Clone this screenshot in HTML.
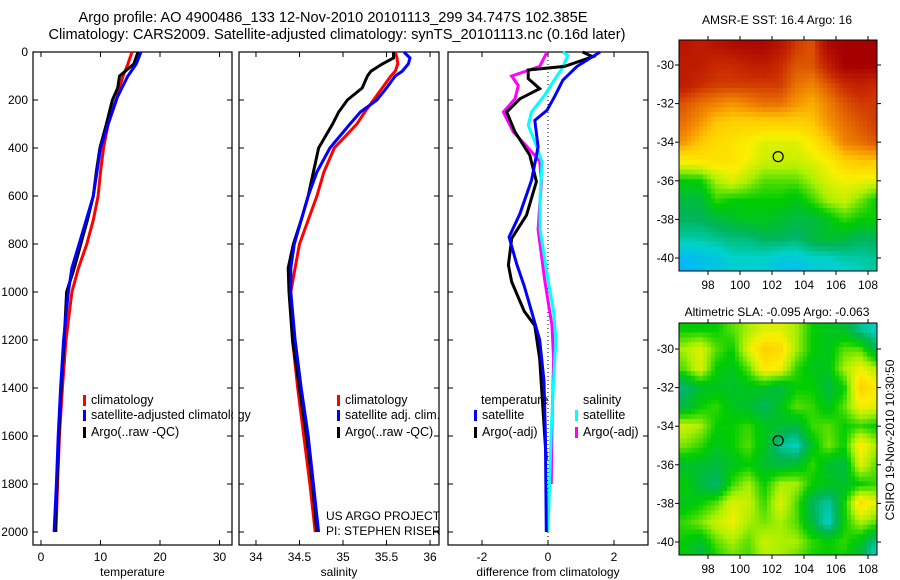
<!DOCTYPE html>
<html><head><meta charset="utf-8">
<style>
html,body{margin:0;padding:0;background:#fff;}
svg{display:block;font-family:"Liberation Sans",sans-serif;}
</style></head>
<body>
<svg id="fig" width="900" height="580" viewBox="0 0 900 580" xmlns="http://www.w3.org/2000/svg">
<text x="333" y="22" font-size="14.6" text-anchor="middle">Argo profile: AO 4900486_133 12-Nov-2010 20101113_299 34.747S 102.385E</text>
<text x="337" y="39" font-size="14.6" text-anchor="middle">Climatology: CARS2009. Satellite-adjusted climatology: synTS_20101113.nc (0.16d later)</text>
<text x="777" y="24" font-size="12" text-anchor="middle">AMSR-E SST: 16.4 Argo: 16</text>
<text x="777" y="316" font-size="12" text-anchor="middle">Altimetric SLA: -0.095 Argo: -0.063</text>
<text transform="translate(894,440) rotate(-90)" font-size="12" text-anchor="middle">CSIRO 19-Nov-2010 10:30:50</text>
<text x="326" y="520" font-size="12">US ARGO PROJECT</text>
<text x="326" y="535" font-size="12">PI: STEPHEN RISER</text>
</svg>
<script>
// ---- profile data ----
const tDepth=[0,50,100,150,200,300,400,500,600,700,800,900,1000,1200,1400,1600,1800,2000];
const tClim=[15.3,14.6,13.8,13.2,12.7,11.3,10.5,10.0,9.6,8.8,7.7,6.3,5.2,4.2,3.6,3.1,2.8,2.5];
const tSat=[16.8,16.0,14.6,13.6,12.6,11.3,10.0,9.4,8.8,7.6,6.4,5.2,4.6,3.8,3.3,2.9,2.6,2.2];
const tArgo=[16.3,15.6,13.2,12.9,12.0,11.0,9.9,9.3,8.8,7.8,6.7,5.6,4.3,3.9,3.4,3.0,2.7,2.4];
const sDepth=[0,25,50,80,100,150,200,250,300,400,500,600,700,800,900,1000,1200,1400,1600,1800,2000];
const sClim=[35.6,35.62,35.63,35.6,35.55,35.45,35.35,35.25,35.16,34.9,34.78,34.7,34.6,34.5,34.45,34.4,34.42,34.48,34.55,34.62,34.68];
const sSat=[35.7,35.77,35.75,35.68,35.6,35.5,35.39,35.2,35.08,34.85,34.7,34.6,34.52,34.44,34.4,34.4,34.45,34.52,34.6,34.66,34.72];
const sArgo=[35.58,35.58,35.45,35.32,35.28,35.22,35.05,34.95,34.88,34.72,34.66,34.6,34.52,34.43,34.37,34.38,34.42,34.5,34.58,34.65,34.7];
const dTSatDepth=[0,60,117,186,243,285,395,535,674,771,882,975,1080,1200,1370,1600,2000];
const dTSat=[1.58,0.88,0.45,0.2,-0.03,-0.4,-0.3,-0.5,-0.85,-1.18,-0.95,-0.72,-0.5,-0.25,-0.12,-0.08,-0.05];
const dTArgoDepth=[0,20,60,75,111,153,195,250,333,430,540,680,777,888,958,1080,1140,1280,1555,1700];
const dTArgo=[1.05,1.35,0.5,-0.6,-0.6,-0.25,-0.85,-1.25,-1.0,-0.55,-0.35,-0.65,-1.1,-1.2,-1.1,-0.72,-0.4,-0.25,-0.12,-0.05];
const dSSatDepth=[0,14,70,125,180,250,305,390,460,600,740,950,1080,1200,1370,1570,2000];
const dSSat=[0.45,0.6,0.42,0.15,-0.1,-0.5,-0.6,-0.35,-0.18,-0.24,-0.24,0,0.17,0.24,0.17,0.1,0];
const dSArgoDepth=[0,60,100,140,195,250,333,400,455,540,740,950,1140,1280,1555,1800];
const dSArgo=[-0.03,-0.25,-1.1,-0.9,-1.0,-1.35,-1.05,-0.6,-0.25,-0.2,-0.3,-0.1,0.12,0.17,0.12,0.1];
const depthTicks=[0,200,400,600,800,1000,1200,1400,1600,1800,2000];
const tTicks=[0,10,20,30];
const sTicks=[34,34.5,35,35.5,36];
const dTicks=[-2,0,2];
// ---- map data (normalised colour-scale levels, rows lat -29..-41, cols lon 96.5..108.5) ----
const mapLats=[-29,-30,-31,-32,-33,-34,-35,-36,-37,-38,-39,-40,-41];
const mapLons=[96.5,97.5,98.5,99.5,100.5,101.5,102.5,103.5,104.5,105.5,106.5,107.5,108.5];
const sstLevels=[
[.95,.93,.95,.97,.98,.98,.95,.88,.85,.98,1,1,1],
[.93,.93,.9,.9,.92,.93,.9,.85,.85,.92,1,1,1],
[.93,.9,.88,.88,.88,.88,.88,.82,.8,.85,.9,.92,.9],
[.85,.82,.8,.78,.8,.82,.82,.78,.75,.8,.85,.88,.88],
[.82,.78,.72,.7,.7,.7,.7,.7,.72,.78,.82,.85,.88],
[.78,.72,.68,.66,.64,.6,.6,.6,.65,.72,.8,.82,.85],
[.63,.65,.66,.66,.62,.58,.58,.58,.6,.63,.7,.72,.72],
[.45,.45,.55,.6,.55,.5,.5,.5,.55,.6,.62,.62,.6],
[.38,.38,.48,.45,.45,.45,.45,.42,.48,.55,.58,.52,.45],
[.35,.35,.38,.4,.42,.42,.4,.38,.38,.42,.48,.45,.45],
[.28,.28,.3,.32,.32,.35,.35,.33,.38,.4,.38,.35,.35],
[.15,.18,.2,.25,.25,.25,.22,.22,.25,.25,.28,.28,.3],
[.12,.15,.18,.2,.2,.2,.15,.12,.18,.2,.22,.25,.28]];
const slaLevels=[
[.45,.45,.45,.5,.55,.6,.6,.55,.45,.42,.4,.3,.25],
[.55,.6,.5,.45,.6,.7,.68,.55,.45,.42,.5,.5,.35],
[.5,.6,.45,.42,.5,.65,.62,.48,.42,.42,.55,.62,.55],
[.33,.4,.42,.4,.42,.42,.38,.45,.45,.38,.45,.7,.65],
[.38,.45,.48,.42,.4,.35,.42,.5,.48,.42,.5,.62,.6],
[.58,.55,.45,.45,.48,.42,.4,.38,.48,.5,.45,.48,.45],
[.52,.48,.42,.45,.5,.42,.3,.25,.42,.52,.45,.65,.55],
[.4,.4,.38,.42,.45,.4,.38,.4,.48,.4,.38,.6,.5],
[.45,.38,.33,.48,.55,.45,.55,.55,.45,.42,.4,.45,.48],
[.42,.45,.5,.6,.58,.48,.6,.5,.35,.28,.45,.68,.6],
[.48,.52,.58,.62,.55,.52,.55,.5,.38,.25,.45,.55,.5],
[.45,.4,.5,.55,.5,.58,.55,.55,.48,.45,.48,.42,.3],
[.42,.35,.45,.5,.48,.55,.55,.5,.45,.45,.45,.35,.2]];
const mapLatTicks=[-30,-32,-34,-36,-38,-40];
const mapLonTicks=[98,100,102,104,106,108];
const argoLon=102.385, argoLat=-34.747;

const NS="http://www.w3.org/2000/svg";
const svg=document.getElementById('fig');
function mk(tag,attrs,parent){const e=document.createElementNS(NS,tag);for(const k in attrs)e.setAttribute(k,attrs[k]);(parent||svg).appendChild(e);return e;}

const Y0=52,Y1=545,PXM=0.24;
const yD=d=>Y0+PXM*d;

function panel(name,x0,x1,xmin,xmax,xticks,leftLabels,title){
  const g=mk('g',{});
  
  
  const xs=v=>x0+(v-xmin)/(xmax-xmin)*(x1-x0);
  const fr=mk('rect',{x:x0,y:Y0,width:x1-x0,height:Y1-Y0,fill:'none',stroke:'#000','stroke-width':1.2},g);
  
  
  depthTicks.forEach(d=>{
    mk('line',{x1:x0,x2:x0+5,y1:yD(d),y2:yD(d),stroke:'#000'},g);
    mk('line',{x1:x1,x2:x1-5,y1:yD(d),y2:yD(d),stroke:'#000'},g);
    if(leftLabels){const t=mk('text',{x:x0-5,y:yD(d)+4,'font-size':12,'text-anchor':'end'},g);t.textContent=d;
      
      }
  });
  xticks.forEach(v=>{
    mk('line',{x1:xs(v),x2:xs(v),y1:Y1,y2:Y1-5,stroke:'#000'},g);
    mk('line',{x1:xs(v),x2:xs(v),y1:Y0,y2:Y0+5,stroke:'#000'},g);
    const t=mk('text',{x:xs(v),y:Y1+16,'font-size':12,'text-anchor':'middle'},g);t.textContent=v;
    
    
  });
  const tt=mk('text',{x:(x0+x1)/2,y:576,'font-size':12,'text-anchor':'middle'},g);tt.textContent=title;
  
  
  return {g,xs};
}
function line(p,depths,vals,color,name){
  const pts=depths.map((d,i)=>p.xs(vals[i]).toFixed(1)+','+yD(d).toFixed(1)).join(' ');
  const l=mk('polyline',{points:pts,fill:'none',stroke:color,'stroke-width':3,'stroke-linejoin':'miter'},p.g);
  
  
}
function legend(g,x,y,color,label,name){
  mk('rect',{x:x,y:y-9,width:3,height:11,fill:color},g);
  const t=mk('text',{x:x+8,y:y,'font-size':12.5},g);t.textContent=label;
  
  
}

const p1=panel('temperature-panel',33,232,-1.34,32.1,tTicks,true,'temperature');
line(p1,tDepth,tClim,'#f00','temperature-climatology-line');
line(p1,tDepth,tArgo,'#000','temperature-argo-line');
line(p1,tDepth,tSat,'#00f','temperature-satellite-line');
legend(p1.g,83,404,'#f00','climatology','legend-climatology');
legend(p1.g,83,419,'#00f','satellite-adjusted climatology','legend-satellite-adjusted');
legend(p1.g,83,436,'#000','Argo(..raw -QC)','legend-argo');
mk('rect',{x:233,y:390,width:6,height:60,fill:'#fff'},svg);

const p2=panel('salinity-panel',239,439,33.805,36.103,sTicks,false,'salinity');
line(p2,sDepth,sClim,'#f00','salinity-climatology-line');
line(p2,sDepth,sArgo,'#000','salinity-argo-line');
line(p2,sDepth,sSat,'#00f','salinity-satellite-line');
legend(p2.g,337,404,'#f00','climatology','legend-climatology');
legend(p2.g,337,419,'#00f','satellite adj. clim.','legend-satellite-adj');
legend(p2.g,337,436,'#000','Argo(..raw -QC)','legend-argo');

const p3=panel('difference-panel',448,648,-3.03,3.03,dTicks,false,'difference from climatology');
mk('line',{x1:p3.xs(0),x2:p3.xs(0),y1:Y0,y2:Y1,stroke:'#000','stroke-dasharray':'1,3'},p3.g);
line(p3,dSArgoDepth,dSArgo,'#f0f','salinity-argo-diff-line');
line(p3,dSSatDepth,dSSat,'#0ff','salinity-satellite-diff-line');
line(p3,dTArgoDepth,dTArgo,'#000','temperature-argo-diff-line');
line(p3,dTSatDepth,dTSat,'#00f','temperature-satellite-diff-line');
const lt=mk('text',{x:481,y:404,'font-size':12.5},p3.g);lt.textContent='temperature';


const ls=mk('text',{x:583,y:404,'font-size':12.5},p3.g);ls.textContent='salinity';


legend(p3.g,474,419,'#00f','satellite','legend-temp-satellite');
legend(p3.g,474,436,'#000','Argo(-adj)','legend-temp-argo');
legend(p3.g,575,419,'#0ff','satellite','legend-sal-satellite');
legend(p3.g,575,436,'#f0f','Argo(-adj)','legend-sal-argo');

// ---- maps ----
const stops=[[0,[0,100,255]],[.12,[0,180,255]],[.25,[0,210,200]],[.35,[0,180,90]],[.45,[0,205,0]],[.55,[170,240,0]],[.63,[250,240,0]],[.72,[255,200,0]],[.8,[240,130,0]],[.9,[200,40,0]],[1,[165,0,0]]];
function cmap(t){t=Math.max(0,Math.min(1,t));for(let i=1;i<stops.length;i++){if(t<=stops[i][0]){const a=stops[i-1],b=stops[i],f=(t-a[0])/(b[0]-a[0]);return 'rgb('+a[1].map((c,k)=>Math.round(c+(b[1][k]-c)*f)).join(',')+')';}}return 'rgb(165,0,0)';}
function sample(grid,lon,lat){
  let fx=(lon-mapLons[0])/(mapLons[1]-mapLons[0]),fy=(mapLats[0]-lat)/(mapLats[0]-mapLats[1]);
  fx=Math.max(0,Math.min(mapLons.length-1.001,fx));fy=Math.max(0,Math.min(mapLats.length-1.001,fy));
  const i=Math.floor(fy),j=Math.floor(fx),u=fx-j,v=fy-i;
  return grid[i][j]*(1-u)*(1-v)+grid[i][j+1]*u*(1-v)+grid[i+1][j]*(1-u)*v+grid[i+1][j+1]*u*v;
}
function map(name,grid,top,bottom,lat30y,lat40y){
  const L=679,R=877;
  const xs=lon=>708+(lon-98)*16;
  const ys=lat=>lat30y+(-30-lat)*(lat40y-lat30y)/10;
  const lonOf=x=>98+(x-708)/16, latOf=y=>-30-(y-lat30y)*10/(lat40y-lat30y);
  const g=mk('g',{});
  
  
  const cw=4,ch=4.8;
  for(let y=top;y<bottom;y+=ch){for(let x=L;x<R;x+=cw){
    const v=sample(grid,lonOf(x+cw/2),latOf(y+ch/2));
    const r=mk('rect',{x:x,y:y.toFixed(1),width:Math.min(cw,R-x)+0.3,height:(Math.min(ch,bottom-y)+0.3).toFixed(1),fill:cmap(v)},g);
    
    
  }}
  mk('rect',{x:L,y:top,width:R-L,height:bottom-top,fill:'none',stroke:'#000'},g);
  mapLatTicks.forEach(lat=>{
    mk('line',{x1:L-4,x2:L,y1:ys(lat),y2:ys(lat),stroke:'#000'},g);
    mk('line',{x1:R,x2:R+4,y1:ys(lat),y2:ys(lat),stroke:'#000'},g);
    const t=mk('text',{x:L-5,y:ys(lat)+4,'font-size':12,'text-anchor':'end'},g);t.textContent=lat;
    
    
  });
  mapLonTicks.forEach(lon=>{
    mk('line',{x1:xs(lon),x2:xs(lon),y1:top-4,y2:top,stroke:'#000'},g);
    mk('line',{x1:xs(lon),x2:xs(lon),y1:bottom,y2:bottom+4,stroke:'#000'},g);
    const t=mk('text',{x:xs(lon),y:bottom+18,'font-size':12,'text-anchor':'middle'},g);t.textContent=lon;
    
    
  });
  const c=mk('circle',{cx:xs(argoLon),cy:ys(argoLat),r:5,fill:'none',stroke:'#000','stroke-width':1.2},g);
  
  
}
map('sst-map',sstLevels,40,271,65,258);
map('sla-map',slaLevels,323,555,349,542);
</script>
</body></html>
